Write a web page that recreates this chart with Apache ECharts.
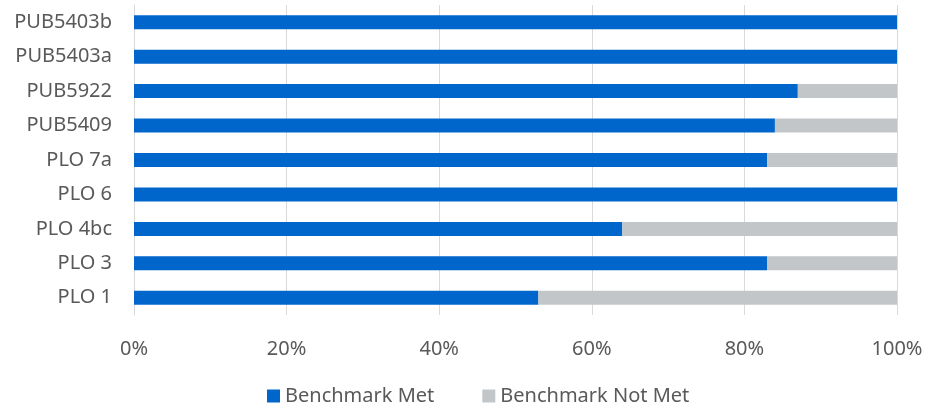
<!DOCTYPE html>
<html>
<head>
<meta charset="utf-8">
<script src="https://cdn.jsdelivr.net/npm/echarts@6/dist/echarts.min.js"></script>
<style>
  html, body { margin: 0; padding: 0; background: #fff; }
  #chart { width: 927px; height: 411px; }
</style>
</head>
<body>
<div id="chart"></div>
<script>
const categories = ["PLO 1", "PLO 3", "PLO 4bc", "PLO 6", "PLO 7a", "PUB5409", "PUB5922", "PUB5403a", "PUB5403b"];
const metValues = [53, 83, 64, 100, 83, 84, 87, 100, 100];
const notMetValues = [47, 17, 36, 0, 17, 16, 13, 0, 0];
const seriesNames = ["Benchmark Met", "Benchmark Not Met"];
const colors = ["#0066CC", "#C3C6C8"];

const chart = echarts.init(document.getElementById("chart"));
const textColor = "#595959";
const font = "Noto Sans";

chart.setOption({
  animation: false,
  grid: { left: 134, right: 30, top: 5, bottom: 96, containLabel: false },
  legend: {
    bottom: 0,
    left: 262,
    itemWidth: 13,
    itemHeight: 13,
    itemGap: 48,
    icon: "rect",
    textStyle: { fontFamily: font, fontSize: 20, color: textColor },
    data: seriesNames,
  },
  xAxis: {
    type: "value",
    min: 0,
    max: 100,
    interval: 20,
    axisLine: { show: false },
    axisTick: { show: false },
    splitLine: { show: true, lineStyle: { color: "#D9D9D9", width: 1 } },
    axisLabel: {
      formatter: "{value}%",
      margin: 24,
      fontFamily: font,
      fontSize: 20,
      color: textColor,
    },
  },
  yAxis: {
    type: "category",
    data: categories,
    axisLine: { show: true, lineStyle: { color: "#D9D9D9" } },
    axisTick: { show: false },
    axisLabel: { margin: 22, fontFamily: font, fontSize: 20, color: textColor },
  },
  series: [
    {
      name: seriesNames[0],
      type: "bar",
      stack: "total",
      barWidth: 14,
      itemStyle: { color: colors[0] },
      data: metValues,
    },
    {
      name: seriesNames[1],
      type: "bar",
      stack: "total",
      barWidth: 14,
      itemStyle: { color: colors[1] },
      data: notMetValues,
    },
  ],
});
window.addEventListener("resize", () => chart.resize());
</script>
</body>
</html>
